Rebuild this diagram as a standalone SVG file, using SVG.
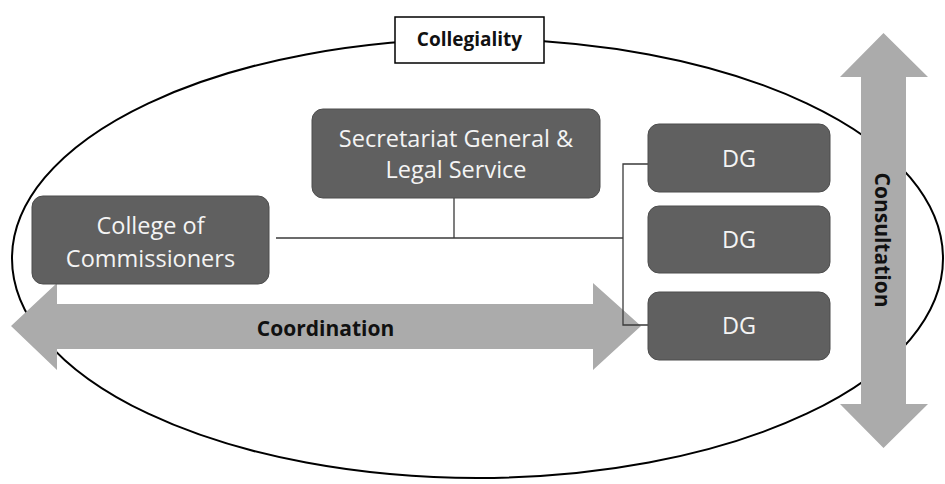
<svg xmlns="http://www.w3.org/2000/svg" width="945" height="484" viewBox="0 0 945 484">
  <style>
    .box { fill: #606060; stroke: #4d4d4d; stroke-width: 1; }
    .box-text { font-family: "Open Sans", "Liberation Sans", sans-serif; font-size: 23.5px; fill: #f4f4f4; text-anchor: middle; }
    .arrow { fill: #ababab; }
    .label { font-family: "Open Sans", "Liberation Sans", sans-serif; font-weight: bold; font-size: 21px; fill: #111111; text-anchor: middle; }
    .link { fill: none; stroke: #3a3a3a; stroke-width: 1.3; }
  </style>

  <!-- Collegiality boundary -->
  <ellipse id="collegiality-boundary" cx="477.5" cy="258.5" rx="465.5" ry="219.5" fill="#ffffff" stroke="#000000" stroke-width="2"/>

  <!-- Coordination and consultation arrows -->
  <g id="coordination-arrow">
    <polygon class="arrow" points="11,326 57,283 57,304 593,304 593,283 641,326 593,370 593,349 57,349 57,370"/>
    <text class="label" x="325.5" y="336">Coordination</text>
  </g>
  <g id="consultation-arrow">
    <polygon class="arrow" points="883.5,33 928,77 906,77 906,404 928,404 883.5,448 840,404 861,404 861,77 840,77"/>
    <text class="label" transform="translate(875,240) rotate(90)">Consultation</text>
  </g>

  <!-- Connectors -->
  <g id="connectors">
    <line class="link" x1="454" y1="198" x2="454" y2="238"/>
    <line class="link" x1="276" y1="238" x2="623" y2="238"/>
    <polyline class="link" points="648,164 623,164 623,325 648,325"/>
  </g>

  <!-- Nodes -->
  <g id="college">
    <rect class="box" x="32" y="196" width="237" height="88" rx="11"/>
    <text class="box-text" x="150.5" y="234">College of</text>
    <text class="box-text" x="150.5" y="267">Commissioners</text>
  </g>
  <g id="secretariat">
    <rect class="box" x="312" y="109" width="288" height="89" rx="11"/>
    <text class="box-text" x="456" y="147">Secretariat General &amp;</text>
    <text class="box-text" x="456" y="178">Legal Service</text>
  </g>
  <g id="dg-1">
    <rect class="box" x="648" y="124" width="182" height="68" rx="11"/>
    <text class="box-text" x="739" y="167">DG</text>
  </g>
  <g id="dg-2">
    <rect class="box" x="648" y="206" width="182" height="67" rx="11"/>
    <text class="box-text" x="739" y="248">DG</text>
  </g>
  <g id="dg-3">
    <rect class="box" x="648" y="292" width="182" height="68" rx="11"/>
    <text class="box-text" x="739" y="334">DG</text>
  </g>

  <!-- Collegiality label -->
  <g id="collegiality">
    <rect x="395" y="17" width="149" height="46" fill="#ffffff" stroke="#000000" stroke-width="1.5"/>
    <text class="label" x="469.5" y="46" style="font-size:19px">Collegiality</text>
  </g>
</svg>
